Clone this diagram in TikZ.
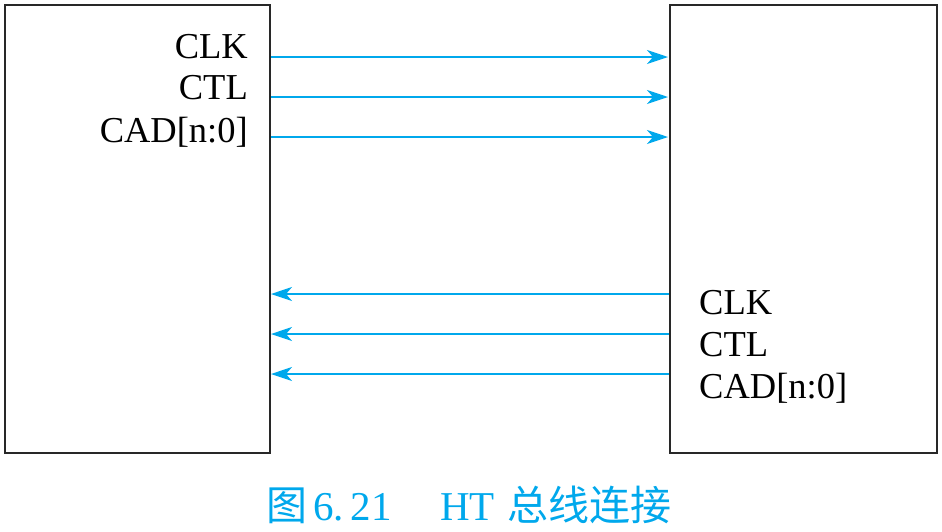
\documentclass[tikz,border=0pt]{standalone}
\usepackage{fontspec}
\setmainfont{Liberation Serif}
\newfontfamily\cjk{Noto Sans CJK SC}
\usetikzlibrary{arrows.meta}
\definecolor{hblue}{RGB}{0,168,236}
\definecolor{boxgray}{RGB}{40,40,40}
\tikzset{
  unitbox/.style={draw=boxgray,line width=1.5pt},
  sig/.style={draw=hblue,line width=1.8pt,-{Stealth[length=21pt,width=14pt,inset=6pt]}},
  lbl/.style={font=\fontsize{36.5}{40}\selectfont,inner sep=0pt},
  captext/.style={font=\fontsize{41}{44}\selectfont,text=hblue,inner sep=0pt,anchor=base west}
}
\begin{document}
\begin{tikzpicture}[x=1pt,y=-1pt]
\useasboundingbox (0,0) rectangle (942,531);
\draw[unitbox] (5,5) rectangle (270,453);
\draw[unitbox] (670,5) rectangle (937,453);
% left labels
\node[lbl,anchor=base east] (lclk) at (248,58) {CLK};
\node[lbl,anchor=base east] (lctl) at (248,99) {CTL};
\node[lbl,anchor=base east] (lcad) at (248,142) {CAD[n:0]};
% right labels
\node[lbl,anchor=base west] (rclk) at (699,314) {CLK};
\node[lbl,anchor=base west] (rctl) at (699,356) {CTL};
\node[lbl,anchor=base west] (rcad) at (699,398) {CAD[n:0]};
% arrows
\coordinate (a1) at (271,57); \coordinate (b1) at (668,57);
\coordinate (a2) at (271,97); \coordinate (b2) at (668,97);
\coordinate (a3) at (271,137); \coordinate (b3) at (668,137);
\coordinate (c1) at (669,294); \coordinate (d1) at (271,294);
\coordinate (c2) at (669,334); \coordinate (d2) at (271,334);
\coordinate (c3) at (669,374); \coordinate (d3) at (271,374);
\draw[sig] (a1) -- (b1);
\draw[sig] (a2) -- (b2);
\draw[sig] (a3) -- (b3);
\draw[sig] (c1) -- (d1);
\draw[sig] (c2) -- (d2);
\draw[sig] (c3) -- (d3);
% caption
\node[captext] (cap0) at (266,520) {\cjk 图};
\node[captext] (cap1) at (313,520) {6.\,21};
\node[captext] (cap2) at (440,520) {HT};
\node[captext] (cap3) at (507,520) {\cjk 总线连接};
\end{tikzpicture}
\end{document}
